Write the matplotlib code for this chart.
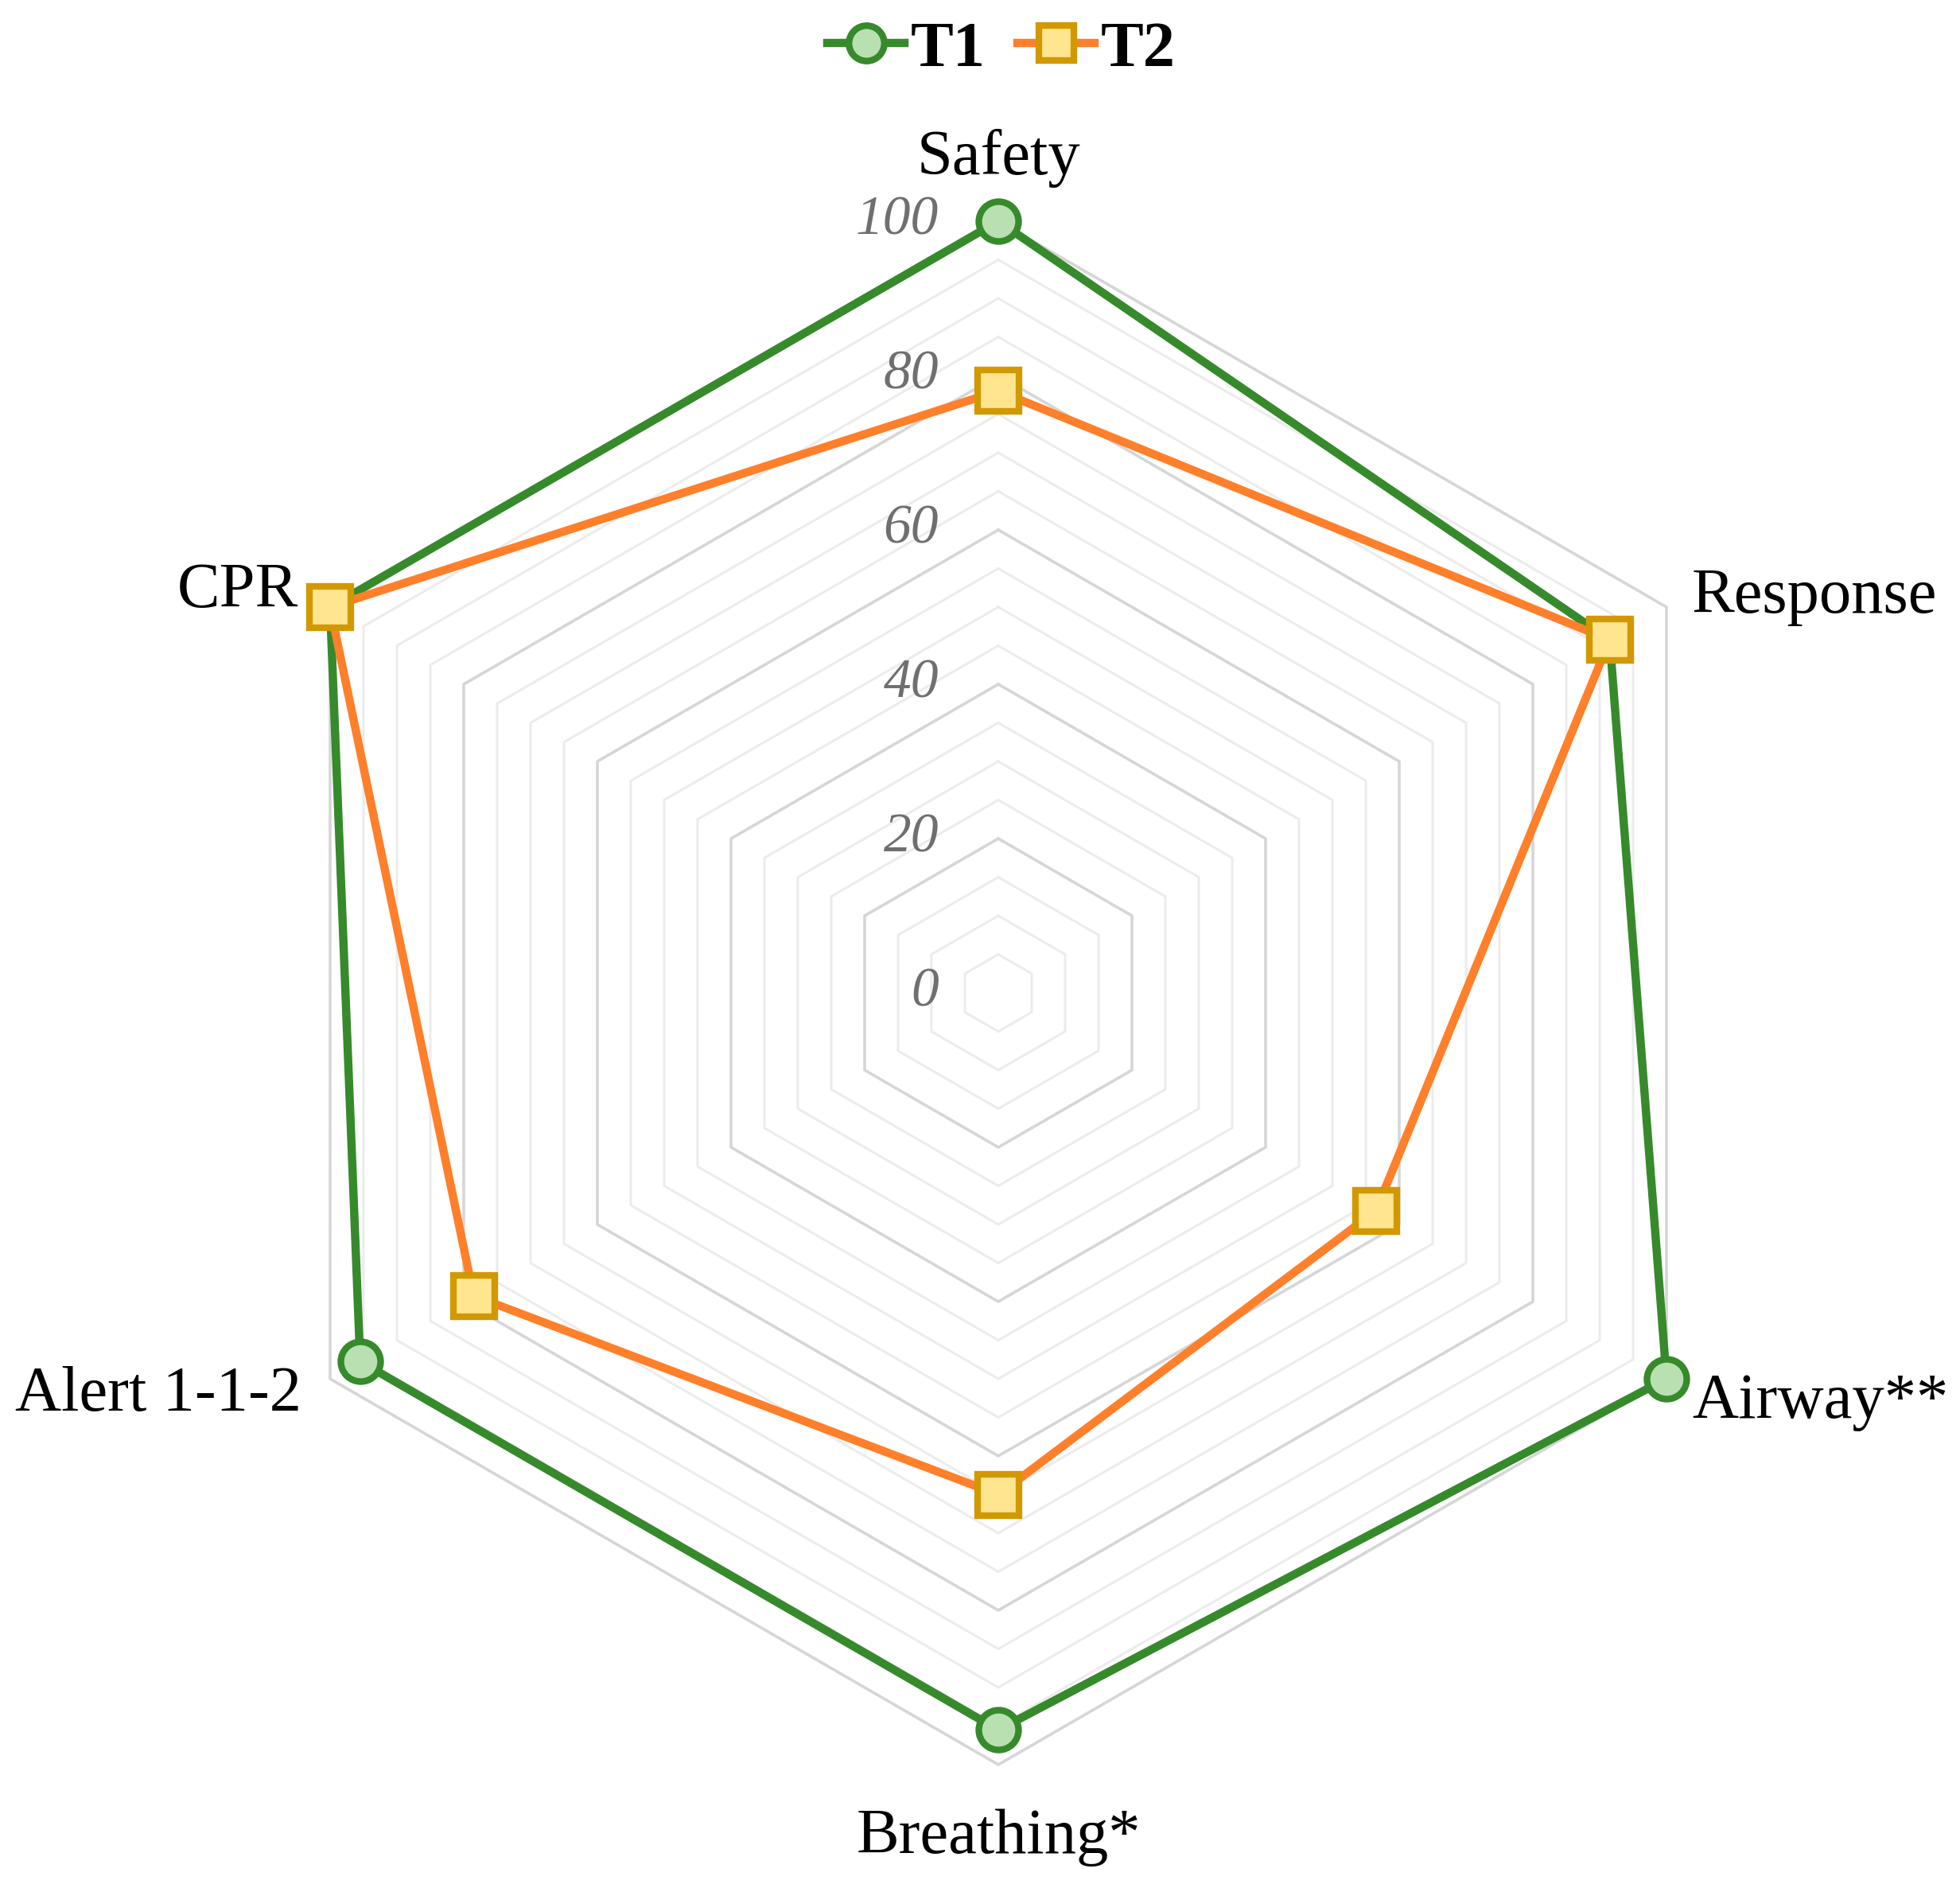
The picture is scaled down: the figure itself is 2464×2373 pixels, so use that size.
import numpy as np
import matplotlib
matplotlib.use("Agg")
import matplotlib.pyplot as plt
from matplotlib.lines import Line2D

# ---------------- data ----------------
categories = ["Safety", "Response", "Airway**", "Breathing*", "Alert 1-1-2", "CPR"]
t1_values = [100, 91.5, 100, 95.5, 95.5, 100]
t2_values = [78, 91.5, 56.5, 65, 78.5, 100]
series_names = ["T1", "T2"]
tick_values = [0, 20, 40, 60, 80, 100]
tick_labels = ["0", "20", "40", "60", "80", "100"]

# ---------------- style ----------------
plt.rcParams['font.family'] = ['Liberation Serif', 'DejaVu Serif']

W, H = 2464, 2373
DPI = 100
fig = plt.figure(figsize=(W / DPI, H / DPI), dpi=DPI, facecolor='white')

cx, cy, R = 1255, 1248, 970  # pixels
ax = fig.add_axes([(cx - R) / W, (H - cy - R) / H, 2 * R / W, 2 * R / H],
                  projection='polar')
ax.set_theta_offset(np.pi / 2)
ax.set_theta_direction(-1)
ax.set_ylim(0, 100)
ax.grid(False)
ax.set_xticks([])
ax.set_yticks([])
ax.spines['polar'].set_visible(False)
ax.set_facecolor('none')

n = len(categories)
angles = np.linspace(0, 2 * np.pi, n, endpoint=False)
closed = np.concatenate([angles, angles[:1]])

# hexagonal grid
for lvl in range(5, 101, 5):
    major = (lvl % 20 == 0)
    ax.plot(closed, [lvl] * (n + 1),
            color='#d6d6d6' if major else '#ececec',
            lw=2.6 if major else 2.2, zorder=1, clip_on=False)

green_line = '#368a2b'
green_face = '#b9e0b1'
orange_line = '#ff7f2a'
gold_edge = '#d29800'
gold_face = '#ffe590'

v1 = np.concatenate([t1_values, t1_values[:1]])
v2 = np.concatenate([t2_values, t2_values[:1]])

ax.plot(closed, v1, color=green_line, lw=7.5, zorder=3, clip_on=False,
        solid_joinstyle='round')
ax.plot(angles, t1_values, ls='none', marker='o', ms=36, mfc=green_face,
        mec=green_line, mew=6, zorder=4, clip_on=False)
ax.plot(closed, v2, color=orange_line, lw=7.5, zorder=5, clip_on=False,
        solid_joinstyle='round')
ax.plot(angles, t2_values, ls='none', marker='s', ms=37, mfc=gold_face,
        mec=gold_edge, mew=6, zorder=6, clip_on=False)

# radial tick labels
for v, lab in zip(tick_values, tick_labels):
    ax.annotate(lab, xy=(0, v), xytext=(-54, 0), textcoords='offset points',
                ha='right', va='center', fontsize=50, style='italic',
                color='#6f6f6f', zorder=7, annotation_clip=False)

# category labels
label_cfg = [
    dict(off=(0, 57), ha='center', va='center'),
    dict(off=(23, 9), ha='left', va='center'),
    dict(off=(23, -21), ha='left', va='center'),
    dict(off=(0, -66), ha='center', va='center'),
    dict(off=(-26, -15), ha='right', va='center'),
    dict(off=(-29, 14), ha='right', va='center'),
]
for ang, cat, cfg in zip(angles, categories, label_cfg):
    ax.annotate(cat, xy=(ang, 100), xytext=cfg['off'], textcoords='offset points',
                ha=cfg['ha'], va=cfg['va'], fontsize=58, color='black',
                annotation_clip=False)

# legend
handles = [
    Line2D([], [], color=green_line, lw=7.5, marker='o', ms=32, mfc=green_face,
           mec=green_line, mew=6, label=series_names[0]),
    Line2D([], [], color=orange_line, lw=7.5, marker='s', ms=31, mfc=gold_face,
           mec=gold_edge, mew=6, label=series_names[1]),
]
fig.legend(handles=handles, loc='center', bbox_to_anchor=(0.511, 1 - 0.0265),
           ncol=2, frameon=False, handlelength=1.2, handletextpad=0.1,
           columnspacing=0.5, borderaxespad=0,
           prop=dict(family='Liberation Serif', weight='bold', size=58))

fig.savefig('out.png', dpi=DPI, facecolor='white')
